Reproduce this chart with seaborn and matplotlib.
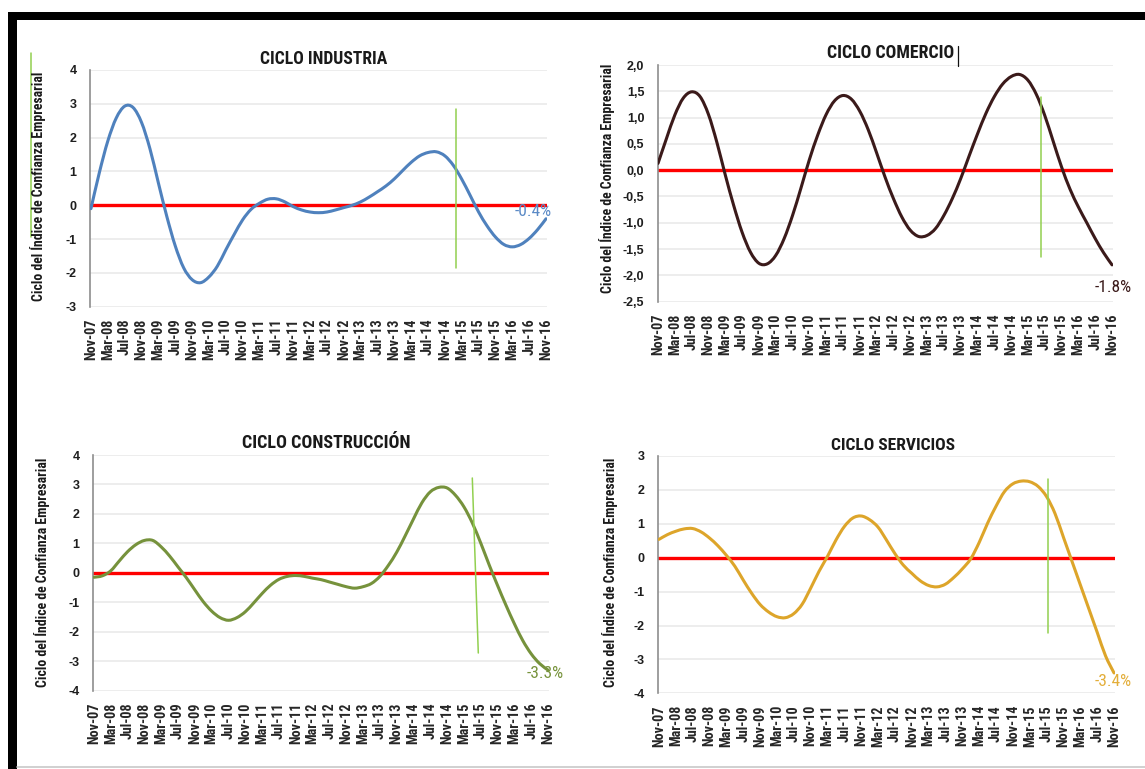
import os
import numpy as np
import pandas as pd
import matplotlib
matplotlib.use("Agg")
import matplotlib.pyplot as plt
from matplotlib import font_manager as fm
from matplotlib.lines import Line2D
from matplotlib.patches import Rectangle, PathPatch
from matplotlib.path import Path
import seaborn as sns

# Meses transcurridos desde nov-2007 (una lectura cada dos meses)
meses = np.arange(0, 109, 2)

etiquetas_x = ["Nov-07", "Mar-08", "Jul-08", "Nov-08", "Mar-09", "Jul-09", "Nov-09",
               "Mar-10", "Jul-10", "Nov-10", "Mar-11", "Jul-11", "Nov-11", "Mar-12",
               "Jul-12", "Nov-12", "Mar-13", "Jul-13", "Nov-13", "Mar-14", "Jul-14",
               "Nov-14", "Mar-15", "Jul-15", "Nov-15", "Mar-16", "Jul-16", "Nov-16"]

industria = [-0.1, 0.97, 1.9, 2.58, 2.93, 2.89, 2.45, 1.67, 0.66, -0.33,
             -1.2, -1.85, -2.2, -2.29, -2.12, -1.8, -1.32, -0.86, -0.43, -0.12,
             0.06, 0.18, 0.19, 0.1, -0.04, -0.14, -0.2, -0.22, -0.2, -0.14,
             -0.07, 0.0, 0.1, 0.24, 0.4, 0.57, 0.78, 1.03, 1.27, 1.46,
             1.56, 1.58, 1.46, 1.18, 0.77, 0.29, -0.2, -0.61, -0.94, -1.16,
             -1.23, -1.16, -0.98, -0.72, -0.4]

comercio = [0.13, 0.6, 1.05, 1.37, 1.49, 1.4, 1.06, 0.53, -0.09, -0.67,
            -1.18, -1.56, -1.77, -1.78, -1.62, -1.3, -0.86, -0.34, 0.2, 0.67,
            1.06, 1.32, 1.42, 1.35, 1.12, 0.77, 0.33, -0.13, -0.54, -0.89,
            -1.14, -1.26, -1.24, -1.11, -0.86, -0.54, -0.16, 0.27, 0.69, 1.08,
            1.4, 1.64, 1.78, 1.82, 1.71, 1.44, 1.04, 0.55, 0.06, -0.36,
            -0.7, -1.0, -1.3, -1.57, -1.8]

construccion = [-0.15, -0.1, 0.07, 0.4, 0.72, 0.96, 1.1, 1.1, 0.88, 0.57,
                0.2, -0.17, -0.58, -0.98, -1.3, -1.52, -1.61, -1.52, -1.32, -1.02,
                -0.7, -0.42, -0.22, -0.12, -0.09, -0.12, -0.18, -0.23, -0.31, -0.39,
                -0.47, -0.52, -0.47, -0.36, -0.12, 0.25, 0.7, 1.25, 1.83, 2.38,
                2.75, 2.9, 2.88, 2.63, 2.24, 1.69, 1.01, 0.27, -0.43, -1.1,
                -1.73, -2.3, -2.75, -3.08, -3.3]

servicios = [0.54, 0.68, 0.78, 0.85, 0.86, 0.76, 0.58, 0.35, 0.07, -0.25,
             -0.66, -1.05, -1.38, -1.6, -1.74, -1.77, -1.65, -1.37, -0.9, -0.4,
             0.04, 0.52, 0.92, 1.17, 1.23, 1.12, 0.9, 0.52, 0.12, -0.22,
             -0.46, -0.68, -0.82, -0.86, -0.78, -0.58, -0.33, -0.03, 0.45, 1.02,
             1.52, 1.95, 2.18, 2.26, 2.24, 2.1, 1.8, 1.3, 0.6, -0.1,
             -0.8, -1.5, -2.2, -2.9, -3.4]

titulos = ["CICLO INDUSTRIA", "CICLO COMERCIO", "CICLO CONSTRUCCIÓN", "CICLO SERVICIOS"]
eje_y = "Ciclo del Índice de Confianza Empresarial"

sns.set_theme(style="white")
plt.rcParams["font.family"] = ["Liberation Sans", "DejaVu Sans"]


def fuente_estrecha(negrita):
    """Busca una tipografía estrecha instalada con el peso pedido."""
    orden = {"liberation sans narrow": 0, "roboto condensed": 1,
             "open sans condensed": 2, "dejavu sans": 3}
    candidatos = []
    for f in fm.fontManager.ttflist:
        base = os.path.basename(f.fname).lower()
        if "extra" in base or "ultra" in base or "semi" in base:
            continue
        estrecha = ("narrow" in base or "condensed" in base
                    or f.stretch in ("condensed",))
        if not estrecha or f.style != "normal":
            continue
        peso = f.weight if isinstance(f.weight, int) else \
            {"bold": 700, "normal": 400, "regular": 400, "book": 400}.get(str(f.weight), 400)
        if negrita != (peso >= 600) or (not negrita and peso < 350):
            continue
        candidatos.append((orden.get(f.name.lower(), 4), f.fname))
    if candidatos:
        return fm.FontProperties(fname=sorted(candidatos)[0][1])
    return fm.FontProperties(family="DejaVu Sans",
                             weight="bold" if negrita else "normal")


ESTRECHA_N = fuente_estrecha(True)
ESTRECHA_R = fuente_estrecha(False)

W, H = 1145, 769
fig = plt.figure(figsize=(W / 100, H / 100), dpi=100)
fig.patch.set_facecolor("white")


def ejes_px(izq, der, arr, aba):
    return fig.add_axes([izq / W, 1 - aba / H, (der - izq) / W, (aba - arr) / H])


def fmt_entero(v):
    return f"{int(round(v))}"


def fmt_coma(v):
    return f"{v:.1f}".replace(".", ",")


def trazo_suave(x, y):
    """Línea suavizada (Bézier tipo Catmull-Rom) que pasa por cada punto."""
    x = np.asarray(x, float)
    y = np.asarray(y, float)
    n = len(x)
    verts = [(x[0], y[0])]
    codes = [Path.MOVETO]
    for i in range(n - 1):
        a, d = max(i - 1, 0), min(i + 2, n - 1)
        c1 = (x[i] + (x[i + 1] - x[a]) / 6, y[i] + (y[i + 1] - y[a]) / 6)
        c2 = (x[i + 1] - (x[d] - x[i]) / 6, y[i + 1] - (y[d] - y[i]) / 6)
        verts += [c1, c2, (x[i + 1], y[i + 1])]
        codes += [Path.CURVE4] * 3
    return Path(verts, codes)


paneles = [
    dict(serie=industria, titulo=titulos[0], color="#4F81BD", etiqueta_color="#5B8AC6",
         caja=(89.7, 547.3, 70, 306.7), xlim=(-0.3, 108.3), ylim=(-3, 4),
         yticks=np.arange(-3, 5, 1), fmt=fmt_entero,
         titulo_pos=(324, 59, 128), ylab_pos=(38, 186),
         valor_pos=(533, 212), verde=((456, 109), (456, 268))),
    dict(serie=comercio, titulo=titulos[1], color="#3B1A1A", etiqueta_color="#3B1A1A",
         caja=(657.6, 1113.3, 65, 301.7), xlim=(-0.1, 108.3), ylim=(-2.5, 2.0),
         yticks=np.arange(-2.5, 2.01, 0.5), fmt=fmt_coma,
         titulo_pos=(891, 53.5, 128), ylab_pos=(607, 178),
         valor_pos=(1113.5, 287.5), verde=((1041, 97), (1041, 257))),
    dict(serie=construccion, titulo=titulos[2], color="#76923C", etiqueta_color="#77933C",
         caja=(92.7, 549.3, 455, 690.7), xlim=(-0.3, 108.3), ylim=(-4, 4),
         yticks=np.arange(-4, 5, 1), fmt=fmt_entero,
         titulo_pos=(326, 443, 167), ylab_pos=(42, 572),
         valor_pos=(545, 673.5), verde=((472.3, 478), (478.3, 653))),
    dict(serie=servicios, titulo=titulos[3], color="#DDA52A", etiqueta_color="#E3AE3A",
         caja=(657.7, 1115.3, 456, 693.3), xlim=(-0.3, 108.3), ylim=(-4, 3),
         yticks=np.arange(-4, 4, 1), fmt=fmt_entero,
         titulo_pos=(893, 445, 124), ylab_pos=(610, 572),
         valor_pos=(1113, 681), verde=((1048.3, 479), (1048.3, 633))),
]

renderer = fig.canvas.get_renderer()


def ajustar(txt, largo):
    for _ in range(4):
        bb = txt.get_window_extent(renderer)
        actual = max(bb.width, bb.height)
        txt.set_fontsize(txt.get_fontsize() * largo / actual)


def linea_px(p0, p1, **kw):
    fig.add_artist(Line2D([p0[0] / W, p1[0] / W], [1 - p0[1] / H, 1 - p1[1] / H],
                          transform=fig.transFigure, **kw))


for p in paneles:
    ax = ejes_px(*p["caja"])
    df = pd.DataFrame({"mes": meses, "ciclo": p["serie"]})

    ax.axhline(0, color="#FF0000", lw=2.4, zorder=2)
    sns.lineplot(data=df, x="mes", y="ciclo", ax=ax, color=p["color"], lw=2.2,
                 zorder=3, legend=False)
    # La serie se muestra como línea suavizada que pasa por los mismos puntos
    linea = ax.lines[-1]
    suave = PathPatch(trazo_suave(linea.get_xdata(), linea.get_ydata()),
                      facecolor="none", edgecolor=p["color"], lw=2.2,
                      capstyle="round", joinstyle="round", zorder=3)
    ax.add_patch(suave)
    linea.set_visible(False)

    ax.set_xlim(*p["xlim"])
    ax.set_ylim(*p["ylim"])
    ax.set_xlabel("")
    ax.set_ylabel("")

    ax.set_xticks(np.arange(0, 109, 4))
    ax.set_xticklabels(etiquetas_x, rotation=90, color="#262626",
                       fontproperties=ESTRECHA_N)
    for lab in ax.get_xticklabels():
        lab.set_fontsize(10.2)
    ax.set_yticks(p["yticks"])
    ax.set_yticklabels([p["fmt"](v) for v in p["yticks"]], fontsize=9,
                       fontweight="bold", color="#1E1E1E")
    ax.tick_params(axis="both", length=0)
    ax.tick_params(axis="x", pad=8.5)
    ax.tick_params(axis="y", pad=9.5)

    ax.yaxis.grid(True, color="#E8E8E8", lw=1.1)
    ax.xaxis.grid(False)
    ax.set_axisbelow(True)
    for lado in ["top", "right", "bottom"]:
        ax.spines[lado].set_visible(False)
    ax.spines["left"].set_color("#8E8E8E")
    ax.spines["left"].set_linewidth(1.2)
    ax.set_facecolor("white")

    # Título del panel
    tx, ty, tw = p["titulo_pos"]
    t = fig.text(tx / W, 1 - ty / H, p["titulo"], ha="center", va="center",
                 color="#1A1A1A", fontproperties=ESTRECHA_N)
    t.set_fontsize(12)
    ajustar(t, tw)

    # Rótulo del eje vertical
    yx, yy = p["ylab_pos"]
    yl = fig.text(yx / W, 1 - yy / H, eje_y, rotation=90, ha="center", va="center",
                  color="#1A1A1A", fontproperties=ESTRECHA_N)
    yl.set_fontsize(8)
    ajustar(yl, 230)

    # Último valor del ciclo
    vx, vy = p["valor_pos"]
    ultimo = p["serie"][-1]
    v = fig.text(vx / W, 1 - vy / H, f"{ultimo:.1f}%", ha="center", va="center",
                 color=p["etiqueta_color"], fontproperties=ESTRECHA_R)
    v.set_fontsize(12)
    ajustar(v, 37)

    # Marca vertical de referencia
    linea_px(*p["verde"], color="#92D050", lw=1.1)

# Marcas sueltas del documento
linea_px((31, 53), (31, 237), color="#92D050", lw=1.1)
linea_px((957.5, 46), (957.5, 66), color="#111111", lw=0.9)

# Marco negro del recuadro
fig.add_artist(Rectangle((8 / W, 1 - 20 / H), (W - 8) / W, 8 / H,
                         transform=fig.transFigure, color="black", lw=0))
fig.add_artist(Rectangle((8 / W, 0), 9 / W, (H - 12) / H,
                         transform=fig.transFigure, color="black", lw=0))
linea_px((17, 767), (1145, 767), color="#C8C8C8", lw=1.2)

fig.savefig("out.png", dpi=100, facecolor="white")
